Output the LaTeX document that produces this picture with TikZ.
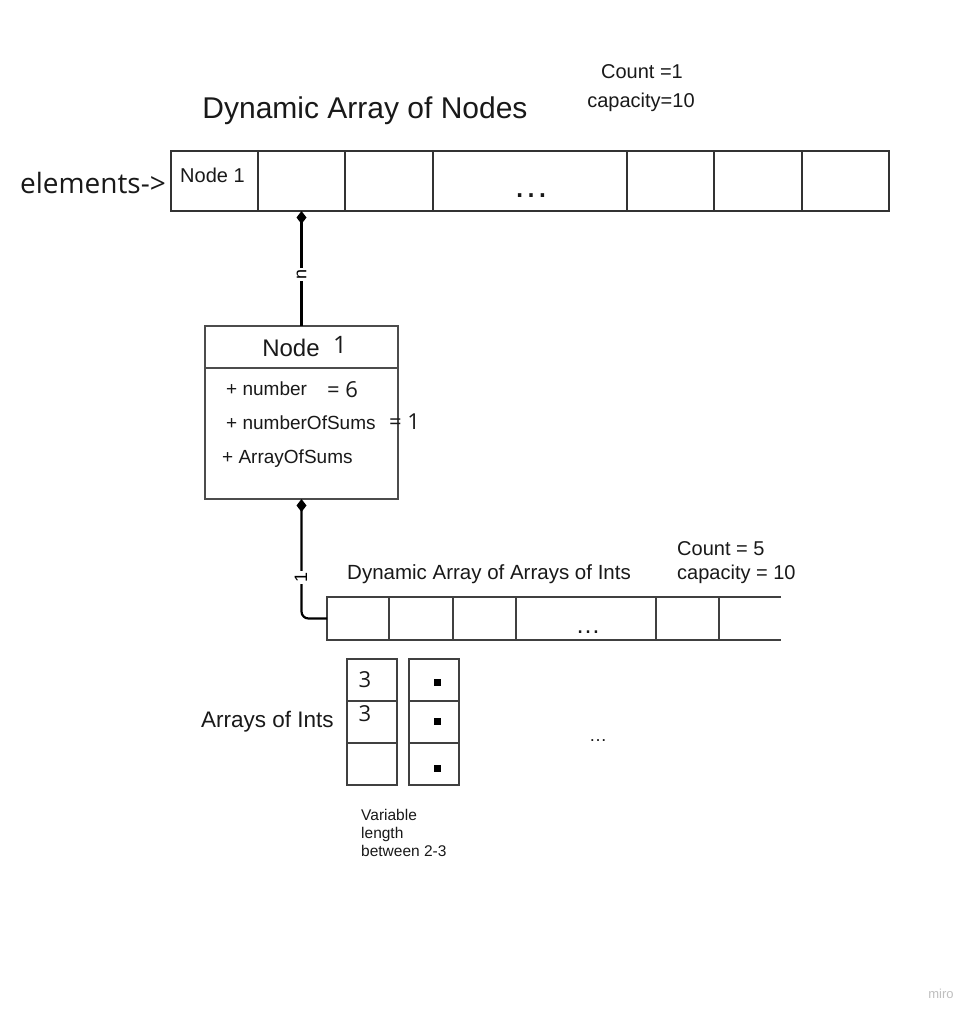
\documentclass[tikz,border=0pt]{standalone}
\usepackage{fontspec}
\setmainfont{Liberation Sans}
\newfontfamily\osans{Open Sans}
\usetikzlibrary{arrows.meta}
\newcommand\fsz[1]{\fontsize{#1pt}{#1pt}\selectfont}
\begin{document}
\begin{tikzpicture}[x=1pt,y=-1pt,
  topcell/.style={draw=black!80, line width=1.2pt, anchor=north west, minimum height=60pt, inner sep=0pt, outer sep=0pt},
  midcell/.style={draw=black!75, line width=1.2pt, anchor=north west, minimum height=43pt, inner sep=0pt, outer sep=0pt},
  intcell/.style={draw=black!75, line width=1.2pt, anchor=north west, minimum width=50pt, minimum height=42pt, inner sep=0pt, outer sep=0pt},
  txt/.style={inner sep=0pt, text=black!90},
  conn/.style={draw=black, line width=2.2pt, {Diamond[length=13pt,width=10pt]}-},
  lbl/.style={fill=white, inner sep=1.5pt, rotate=90, font=\fsz{18}},
  dot/.style={fill=black, minimum size=7pt, inner sep=0pt}
]
\path[use as bounding box, fill=white] (0,0) rectangle (978,1021);

% header texts
\node[txt, font=\fsz{20}] (cnt1) at (642,72) {Count =1};
\node[txt, font=\fsz{20}] (cap1) at (641,102) {capacity=10};
\node[txt, font=\fsz{30}] (title) at (365,111) {Dynamic Array of Nodes};
\node[txt, font=\osans\fsz{28}, anchor=east] (elem) at (166,183) {elements->};

% top array
\node[topcell, minimum width=87pt] (t1) at (171,151) {};
\node[topcell, minimum width=87pt] (t2) at (258,151) {};
\node[topcell, minimum width=88pt] (t3) at (345,151) {};
\node[topcell, minimum width=194pt] (t4) at (433,151) {};
\node[topcell, minimum width=87pt] (t5) at (627,151) {};
\node[topcell, minimum width=88pt] (t6) at (714,151) {};
\node[topcell, minimum width=87pt] (t7) at (802,151) {};
\node[txt, font=\fsz{20}, anchor=west] (t1lbl) at (180,175) {Node 1};
\node[txt, font=\fsz{36}] (tdots) at (531,196) {…};

% node box
\node[draw=black!70, line width=1.2pt, anchor=north west, minimum width=193pt, minimum height=173pt, inner sep=0pt, outer sep=0pt] (nb) at (205,326) {};
\draw[draw=black!70, line width=1.2pt] (205,368) -- (398,368);
\node[txt, font=\fsz{24}] (nbt) at (291,348) {Node};
\node[txt, font=\osans\fsz{24}] (nbn) at (340,345) {1};
\node[txt, font=\fsz{19}, anchor=west] (f1) at (226,389) {+ number};
\node[txt, font=\osans\fsz{22}, anchor=west] (v1) at (327,390) {= 6};
\node[txt, font=\fsz{19}, anchor=west] (f2) at (226,423) {+ numberOfSums};
\node[txt, font=\osans\fsz{22}, anchor=west] (v2) at (389,422) {= 1};
\node[txt, font=\fsz{19}, anchor=west] (f3) at (222,459) {+ ArrayOfSums};

% connector 1
\draw[conn] (t2.south) -- node[lbl, pos=0.55] {n} (nb.north);

% second array
\node[txt, font=\fsz{20.5}, anchor=west] (atitle) at (347,574) {Dynamic Array of Arrays of Ints};
\node[txt, font=\fsz{20}, anchor=west] (cnt2) at (677,549) {Count = 5};
\node[txt, font=\fsz{20}, anchor=west] (cap2) at (677,574) {capacity = 10};
\node[midcell, minimum width=62pt] (a1) at (327,597) {};
\node[midcell, minimum width=64pt] (a2) at (389,597) {};
\node[midcell, minimum width=63pt] (a3) at (453,597) {};
\node[midcell, minimum width=140pt] (a4) at (516,597) {};
\node[midcell, minimum width=63pt] (a5) at (656,597) {};
\node[midcell, draw=none, minimum width=62pt] (a6) at (719,597) {};
\draw[draw=black!75, line width=1.2pt] (a6.north east) -- (a6.north west) -- (a6.south west) -- (a6.south east);
\node[txt, font=\fsz{25}] (adots) at (588,632) {…};

% connector 2
\draw[conn, rounded corners=7pt] (nb.south) |- (a1.west);
\node[lbl] (one) at (301,577) {1};

% arrays of ints
\node[txt, font=\fsz{22.5}, anchor=west] (aoi) at (201,722) {Arrays of Ints};
\node[intcell] (c11) at (347,659) {};
\node[intcell] (c12) at (347,701) {};
\node[intcell] (c13) at (347,743) {};
\node[intcell] (c21) at (409,659) {};
\node[intcell] (c22) at (409,701) {};
\node[intcell] (c23) at (409,743) {};
\node[txt, font=\osans\fsz{22}] (v11) at (365,680) {3};
\node[txt, font=\osans\fsz{22}] (v12) at (365,714) {3};
\node[dot] (d1) at (437,682) {};
\node[dot] (d2) at (437,721) {};
\node[dot] (d3) at (437,768) {};
\node[txt, font=\fsz{18}] (bdots) at (598,741) {…};
\node[txt, font=\fontsize{15.5pt}{18pt}\selectfont, anchor=north west, align=left] (var) at (361,809) {Variable\\length\\between 2-3};

\node[txt, text=black!25, font=\fsz{13}] (miro) at (941,994) {miro};
\end{tikzpicture}
\end{document}
